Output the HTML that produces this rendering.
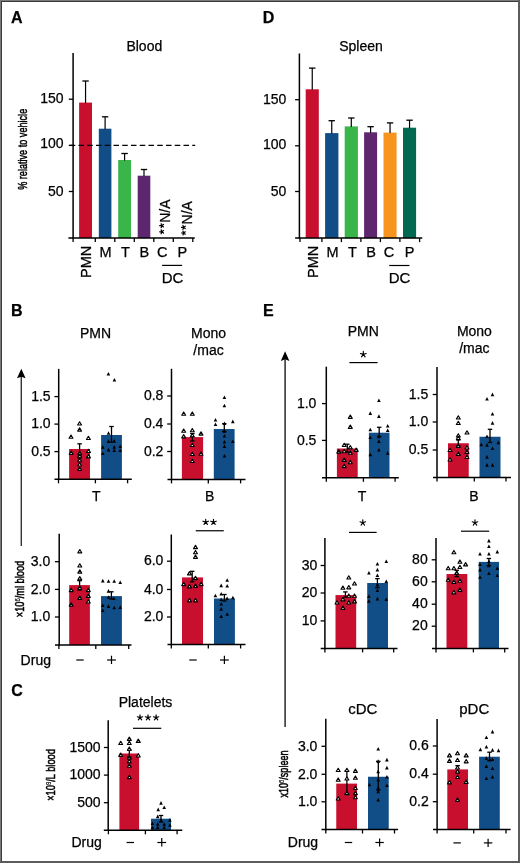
<!DOCTYPE html>
<html><head><meta charset="utf-8"><style>
html,body{margin:0;padding:0;background:#fff;}
#fig{position:relative;width:520px;height:863px;overflow:hidden;background:#fff;}
svg{position:absolute;left:0;top:0;will-change:transform;}
text{font-family:"Liberation Sans", sans-serif;fill:#000;stroke:#000;stroke-width:0.25px;}
</style></head><body><div id="fig">
<svg width="520" height="863" viewBox="0 0 520 863">
<rect x="0" y="0" width="520" height="863" fill="#fff"/>
<text x="11" y="22.8" font-size="16" text-anchor="start" font-weight="bold" >A</text>
<text x="144.3" y="50.9" font-size="14" text-anchor="middle" font-weight="normal" >Blood</text>
<line x1="73.1" y1="53" x2="73.1" y2="238.75" stroke="#000" stroke-width="1.5" />
<line x1="68.8" y1="99.2" x2="73.1" y2="99.2" stroke="#000" stroke-width="1.3" />
<text x="63.5" y="103.1" font-size="14" text-anchor="end" font-weight="normal" >150</text>
<line x1="68.8" y1="145.4" x2="73.1" y2="145.4" stroke="#000" stroke-width="1.3" />
<text x="63.5" y="148.3" font-size="14" text-anchor="end" font-weight="normal" >100</text>
<line x1="68.8" y1="191.5" x2="73.1" y2="191.5" stroke="#000" stroke-width="1.3" />
<text x="63.5" y="195.7" font-size="14" text-anchor="end" font-weight="normal" >50</text>
<text transform="translate(26.6,149.3) rotate(-90)" font-size="12.5" text-anchor="middle" font-weight="normal" style="stroke-width:0.5px" textLength="81" lengthAdjust="spacingAndGlyphs">% relative to vehicle</text>
<rect x="79.1" y="102.6" width="12.9" height="135.4" fill="#c8102e"/>
<line x1="85.55" y1="81" x2="85.55" y2="103.1" stroke="#000" stroke-width="1.2" />
<line x1="82.35" y1="81" x2="88.75" y2="81" stroke="#000" stroke-width="1.3" />
<rect x="98.8" y="128.7" width="12.6" height="109.3" fill="#114e88"/>
<line x1="105.1" y1="116.8" x2="105.1" y2="129.2" stroke="#000" stroke-width="1.2" />
<line x1="101.9" y1="116.8" x2="108.3" y2="116.8" stroke="#000" stroke-width="1.3" />
<rect x="118.2" y="160" width="12.8" height="78" fill="#39b54a"/>
<line x1="124.6" y1="153.5" x2="124.6" y2="160.5" stroke="#000" stroke-width="1.2" />
<line x1="121.4" y1="153.5" x2="127.8" y2="153.5" stroke="#000" stroke-width="1.3" />
<rect x="137.7" y="175.7" width="12.6" height="62.3" fill="#5f2670"/>
<line x1="144.0" y1="169.5" x2="144.0" y2="176.2" stroke="#000" stroke-width="1.2" />
<line x1="140.8" y1="169.5" x2="147.2" y2="169.5" stroke="#000" stroke-width="1.3" />
<line x1="69.75" y1="145.4" x2="195.2" y2="145.4" stroke="#000" stroke-width="1.4" stroke-dasharray="5.5 3.25"/>
<line x1="68.4" y1="238.1" x2="194.8" y2="238.1" stroke="#000" stroke-width="1.5" />
<line x1="73.1" y1="238.1" x2="73.1" y2="242.1" stroke="#000" stroke-width="1.3" />
<line x1="95.3" y1="238.1" x2="95.3" y2="242.1" stroke="#000" stroke-width="1.3" />
<line x1="114.8" y1="238.1" x2="114.8" y2="242.1" stroke="#000" stroke-width="1.3" />
<line x1="134.3" y1="238.1" x2="134.3" y2="242.1" stroke="#000" stroke-width="1.3" />
<line x1="153.8" y1="238.1" x2="153.8" y2="242.1" stroke="#000" stroke-width="1.3" />
<line x1="173.3" y1="238.1" x2="173.3" y2="242.1" stroke="#000" stroke-width="1.3" />
<line x1="192.8" y1="238.1" x2="192.8" y2="242.1" stroke="#000" stroke-width="1.3" />
<text transform="translate(90.8,261.8) rotate(-90)" font-size="14.5" text-anchor="middle" font-weight="normal" >PMN</text>
<text x="105.65" y="256.7" font-size="14.5" text-anchor="middle" font-weight="normal" >M</text>
<text x="125.5" y="256.7" font-size="14.5" text-anchor="middle" font-weight="normal" >T</text>
<text x="144.4" y="256.7" font-size="14.5" text-anchor="middle" font-weight="normal" >B</text>
<text x="162.25" y="256.7" font-size="14.5" text-anchor="middle" font-weight="normal" >C</text>
<text x="182.3" y="256.7" font-size="14.5" text-anchor="middle" font-weight="normal" >P</text>
<line x1="162.1" y1="265.4" x2="182.1" y2="265.4" stroke="#000" stroke-width="1.2" />
<text x="172.5" y="282.5" font-size="15" text-anchor="middle" font-weight="normal" >DC</text>
<text transform="translate(169.6,211.2) rotate(-90)" font-size="14" text-anchor="middle" font-weight="normal" >N/A</text>
<text transform="translate(191.8,212.8) rotate(-90)" font-size="14" text-anchor="middle" font-weight="normal" >N/A</text>
<path d="M161.8,225.7L159.7,225.7M161.8,225.7L161.15,223.7M161.8,225.7L163.5,224.47M161.8,225.7L163.5,226.93M161.8,225.7L161.15,227.7" stroke="#000" stroke-width="1.2" stroke-linecap="round" fill="none"/>
<path d="M161.8,231.8L159.7,231.8M161.8,231.8L161.15,229.8M161.8,231.8L163.5,230.57M161.8,231.8L163.5,233.03M161.8,231.8L161.15,233.8" stroke="#000" stroke-width="1.2" stroke-linecap="round" fill="none"/>
<path d="M183.6,227.4L181.5,227.4M183.6,227.4L182.95,225.4M183.6,227.4L185.3,226.17M183.6,227.4L185.3,228.63M183.6,227.4L182.95,229.4" stroke="#000" stroke-width="1.2" stroke-linecap="round" fill="none"/>
<path d="M183.6,233L181.5,233.0M183.6,233L182.95,231.0M183.6,233L185.3,231.77M183.6,233L185.3,234.23M183.6,233L182.95,235.0" stroke="#000" stroke-width="1.2" stroke-linecap="round" fill="none"/>
<text x="262.7" y="22.8" font-size="16" text-anchor="start" font-weight="bold" >D</text>
<text x="361" y="51.2" font-size="14" text-anchor="middle" font-weight="normal" >Spleen</text>
<line x1="299.4" y1="53.5" x2="299.4" y2="238.85" stroke="#000" stroke-width="1.5" />
<line x1="295.1" y1="99.7" x2="299.4" y2="99.7" stroke="#000" stroke-width="1.3" />
<text x="286.3" y="103.6" font-size="14" text-anchor="end" font-weight="normal" >150</text>
<line x1="295.1" y1="145.8" x2="299.4" y2="145.8" stroke="#000" stroke-width="1.3" />
<text x="286.3" y="148.7" font-size="14" text-anchor="end" font-weight="normal" >100</text>
<line x1="295.1" y1="191.5" x2="299.4" y2="191.5" stroke="#000" stroke-width="1.3" />
<text x="286.3" y="195.7" font-size="14" text-anchor="end" font-weight="normal" >50</text>
<rect x="305.7" y="89.3" width="13.1" height="148.8" fill="#c8102e"/>
<line x1="312.25" y1="68.1" x2="312.25" y2="89.8" stroke="#000" stroke-width="1.2" />
<line x1="309.05" y1="68.1" x2="315.45" y2="68.1" stroke="#000" stroke-width="1.3" />
<rect x="325.1" y="133.1" width="13.3" height="105.0" fill="#114e88"/>
<line x1="331.75" y1="120.7" x2="331.75" y2="133.6" stroke="#000" stroke-width="1.2" />
<line x1="328.55" y1="120.7" x2="334.95" y2="120.7" stroke="#000" stroke-width="1.3" />
<rect x="344.7" y="126.4" width="13.2" height="111.7" fill="#39b54a"/>
<line x1="351.3" y1="118" x2="351.3" y2="126.9" stroke="#000" stroke-width="1.2" />
<line x1="348.1" y1="118" x2="354.5" y2="118" stroke="#000" stroke-width="1.3" />
<rect x="364.1" y="132.3" width="13.0" height="105.8" fill="#5f2670"/>
<line x1="370.6" y1="126.7" x2="370.6" y2="132.8" stroke="#000" stroke-width="1.2" />
<line x1="367.4" y1="126.7" x2="373.8" y2="126.7" stroke="#000" stroke-width="1.3" />
<rect x="383.5" y="132.6" width="13.1" height="105.5" fill="#f7941d"/>
<line x1="390.05" y1="122.9" x2="390.05" y2="133.1" stroke="#000" stroke-width="1.2" />
<line x1="386.85" y1="122.9" x2="393.25" y2="122.9" stroke="#000" stroke-width="1.3" />
<rect x="403" y="127.7" width="13.1" height="110.4" fill="#00694f"/>
<line x1="409.55" y1="120.2" x2="409.55" y2="128.2" stroke="#000" stroke-width="1.2" />
<line x1="406.35" y1="120.2" x2="412.75" y2="120.2" stroke="#000" stroke-width="1.3" />
<line x1="295.1" y1="238.1" x2="422.3" y2="238.1" stroke="#000" stroke-width="1.5" />
<line x1="300" y1="238.1" x2="300" y2="242.1" stroke="#000" stroke-width="1.3" />
<line x1="321.9" y1="238.1" x2="321.9" y2="242.1" stroke="#000" stroke-width="1.3" />
<line x1="341.4" y1="238.1" x2="341.4" y2="242.1" stroke="#000" stroke-width="1.3" />
<line x1="360.9" y1="238.1" x2="360.9" y2="242.1" stroke="#000" stroke-width="1.3" />
<line x1="380.4" y1="238.1" x2="380.4" y2="242.1" stroke="#000" stroke-width="1.3" />
<line x1="399.9" y1="238.1" x2="399.9" y2="242.1" stroke="#000" stroke-width="1.3" />
<line x1="419.6" y1="238.1" x2="419.6" y2="242.1" stroke="#000" stroke-width="1.3" />
<text transform="translate(318,261.9) rotate(-90)" font-size="14.5" text-anchor="middle" font-weight="normal" >PMN</text>
<text x="332.6" y="257.1" font-size="14.5" text-anchor="middle" font-weight="normal" >M</text>
<text x="352.5" y="257.1" font-size="14.5" text-anchor="middle" font-weight="normal" >T</text>
<text x="371.1" y="257.1" font-size="14.5" text-anchor="middle" font-weight="normal" >B</text>
<text x="389" y="257.1" font-size="14.5" text-anchor="middle" font-weight="normal" >C</text>
<text x="409.5" y="257.1" font-size="14.5" text-anchor="middle" font-weight="normal" >P</text>
<line x1="389.2" y1="265.5" x2="409.5" y2="265.5" stroke="#000" stroke-width="1.2" />
<text x="399.6" y="282.5" font-size="15" text-anchor="middle" font-weight="normal" >DC</text>
<text x="10.9" y="315.8" font-size="16" text-anchor="start" font-weight="bold" >B</text>
<text x="95.6" y="338" font-size="14" text-anchor="middle" font-weight="normal" >PMN</text>
<text x="208.5" y="338" font-size="14" text-anchor="middle" font-weight="normal" >Mono</text>
<text x="208.5" y="355" font-size="14" text-anchor="middle" font-weight="normal" >/mac</text>
<line x1="21.3" y1="373.7" x2="21.3" y2="546" stroke="#363636" stroke-width="1.45" />
<path d="M21.3,368.7L25.6,378.3L21.3,376.7L17.0,378.3Z" fill="#000"/>
<line x1="58.7" y1="368.9" x2="58.7" y2="480.05" stroke="#000" stroke-width="1.5" />
<line x1="54.4" y1="396.6" x2="58.7" y2="396.6" stroke="#000" stroke-width="1.3" />
<text x="50.6" y="400.8" font-size="14" text-anchor="end" font-weight="normal" >1.5</text>
<line x1="54.4" y1="424.1" x2="58.7" y2="424.1" stroke="#000" stroke-width="1.3" />
<text x="50.6" y="428.3" font-size="14" text-anchor="end" font-weight="normal" >1.0</text>
<line x1="54.4" y1="451.6" x2="58.7" y2="451.6" stroke="#000" stroke-width="1.3" />
<text x="50.6" y="455.8" font-size="14" text-anchor="end" font-weight="normal" >0.5</text>
<rect x="69.1" y="449" width="20.9" height="30.3" fill="#c8102e"/>
<rect x="101.1" y="435" width="20.8" height="44.3" fill="#114e88"/>
<line x1="79.6" y1="443.8" x2="79.6" y2="458" stroke="#000" stroke-width="1.3" />
<line x1="77.35" y1="443.8" x2="81.85" y2="443.8" stroke="#000" stroke-width="1.3" />
<line x1="77.35" y1="458" x2="81.85" y2="458" stroke="#000" stroke-width="1.3" />
<line x1="111.5" y1="426.5" x2="111.5" y2="442.3" stroke="#000" stroke-width="1.3" />
<line x1="109.25" y1="426.5" x2="113.75" y2="426.5" stroke="#000" stroke-width="1.3" />
<line x1="109.25" y1="442.3" x2="113.75" y2="442.3" stroke="#000" stroke-width="1.3" />
<path d="M79.6,421.75L81.55,425.0L77.65,425.0Z" fill="#fff" stroke="#000" stroke-width="1.15" stroke-linejoin="round"/>
<path d="M79.6,427.85L81.55,431.1L77.65,431.1Z" fill="#fff" stroke="#000" stroke-width="1.15" stroke-linejoin="round"/>
<path d="M71,435.0L72.95,438.25L69.05,438.25Z" fill="#fff" stroke="#000" stroke-width="1.15" stroke-linejoin="round"/>
<path d="M88.4,436.25L90.35,439.5L86.45,439.5Z" fill="#fff" stroke="#000" stroke-width="1.15" stroke-linejoin="round"/>
<path d="M71.2,451.05L73.15,454.3L69.25,454.3Z" fill="#fff" stroke="#000" stroke-width="1.15" stroke-linejoin="round"/>
<path d="M88.5,449.25L90.45,452.5L86.55,452.5Z" fill="#fff" stroke="#000" stroke-width="1.15" stroke-linejoin="round"/>
<path d="M88.5,454.65L90.45,457.9L86.55,457.9Z" fill="#fff" stroke="#000" stroke-width="1.15" stroke-linejoin="round"/>
<path d="M79.7,451.45L81.65,454.7L77.75,454.7Z" fill="#fff" stroke="#000" stroke-width="1.15" stroke-linejoin="round"/>
<path d="M79.7,453.95L81.65,457.2L77.75,457.2Z" fill="#fff" stroke="#000" stroke-width="1.15" stroke-linejoin="round"/>
<path d="M79.7,458.45L81.65,461.7L77.75,461.7Z" fill="#fff" stroke="#000" stroke-width="1.15" stroke-linejoin="round"/>
<path d="M79.7,462.75L81.65,466.0L77.75,466.0Z" fill="#fff" stroke="#000" stroke-width="1.15" stroke-linejoin="round"/>
<path d="M79.7,467.05L81.65,470.3L77.75,470.3Z" fill="#fff" stroke="#000" stroke-width="1.15" stroke-linejoin="round"/>
<path d="M108.4,371.90000000000003L110.2,375.5L106.60000000000001,375.5Z" fill="#000"/>
<path d="M114.4,377.90000000000003L116.2,381.5L112.60000000000001,381.5Z" fill="#000"/>
<path d="M108.5,431.20000000000005L110.3,434.8L106.7,434.8Z" fill="#000"/>
<path d="M108.5,439.3L110.3,442.9L106.7,442.9Z" fill="#000"/>
<path d="M114.2,439.1L116.0,442.7L112.4,442.7Z" fill="#000"/>
<path d="M102.8,445.1L104.6,448.7L101.0,448.7Z" fill="#000"/>
<path d="M108.5,447.8L110.3,451.4L106.7,451.4Z" fill="#000"/>
<path d="M114.2,445.1L116.0,448.7L112.4,448.7Z" fill="#000"/>
<path d="M120.2,444.40000000000003L122.0,448.0L118.4,448.0Z" fill="#000"/>
<path d="M114.2,448.5L116.0,452.09999999999997L112.4,452.09999999999997Z" fill="#000"/>
<path d="M120.2,448.5L122.0,452.09999999999997L118.4,452.09999999999997Z" fill="#000"/>
<path d="M102.8,451.40000000000003L104.6,455.0L101.0,455.0Z" fill="#000"/>
<line x1="54.5" y1="479.3" x2="131.8" y2="479.3" stroke="#000" stroke-width="1.5" />
<line x1="58.5" y1="479.3" x2="58.5" y2="483.3" stroke="#000" stroke-width="1.3" />
<line x1="95.4" y1="479.3" x2="95.4" y2="483.3" stroke="#000" stroke-width="1.3" />
<line x1="127.6" y1="479.3" x2="127.6" y2="483.3" stroke="#000" stroke-width="1.3" />
<text x="96.2" y="500.5" font-size="14" text-anchor="middle" font-weight="normal" >T</text>
<line x1="171.5" y1="368.8" x2="171.5" y2="480.15" stroke="#000" stroke-width="1.5" />
<line x1="167.2" y1="396" x2="171.5" y2="396" stroke="#000" stroke-width="1.3" />
<text x="163.4" y="400.2" font-size="14" text-anchor="end" font-weight="normal" >0.8</text>
<line x1="167.2" y1="424" x2="171.5" y2="424" stroke="#000" stroke-width="1.3" />
<text x="163.4" y="428.2" font-size="14" text-anchor="end" font-weight="normal" >0.4</text>
<line x1="167.2" y1="451.5" x2="171.5" y2="451.5" stroke="#000" stroke-width="1.3" />
<text x="163.4" y="455.7" font-size="14" text-anchor="end" font-weight="normal" >0.2</text>
<rect x="181.9" y="437.1" width="21.2" height="42.3" fill="#c8102e"/>
<rect x="213.8" y="429" width="20.8" height="50.4" fill="#114e88"/>
<line x1="192.4" y1="433.5" x2="192.4" y2="441" stroke="#000" stroke-width="1.3" />
<line x1="190.15" y1="433.5" x2="194.65" y2="433.5" stroke="#000" stroke-width="1.3" />
<line x1="190.15" y1="441" x2="194.65" y2="441" stroke="#000" stroke-width="1.3" />
<line x1="224.3" y1="423.7" x2="224.3" y2="431.5" stroke="#000" stroke-width="1.3" />
<line x1="222.05" y1="423.7" x2="226.55" y2="423.7" stroke="#000" stroke-width="1.3" />
<line x1="222.05" y1="431.5" x2="226.55" y2="431.5" stroke="#000" stroke-width="1.3" />
<path d="M183.7,411.95L185.65,415.2L181.75,415.2Z" fill="#fff" stroke="#000" stroke-width="1.15" stroke-linejoin="round"/>
<path d="M192.3,411.95L194.25,415.2L190.35,415.2Z" fill="#fff" stroke="#000" stroke-width="1.15" stroke-linejoin="round"/>
<path d="M183.7,428.95L185.65,432.2L181.75,432.2Z" fill="#fff" stroke="#000" stroke-width="1.15" stroke-linejoin="round"/>
<path d="M192.3,428.45L194.25,431.7L190.35,431.7Z" fill="#fff" stroke="#000" stroke-width="1.15" stroke-linejoin="round"/>
<path d="M201,431.85L202.95,435.1L199.05,435.1Z" fill="#fff" stroke="#000" stroke-width="1.15" stroke-linejoin="round"/>
<path d="M183.7,434.65L185.65,437.9L181.75,437.9Z" fill="#fff" stroke="#000" stroke-width="1.15" stroke-linejoin="round"/>
<path d="M192.3,433.55L194.25,436.8L190.35,436.8Z" fill="#fff" stroke="#000" stroke-width="1.15" stroke-linejoin="round"/>
<path d="M192.3,443.25L194.25,446.5L190.35,446.5Z" fill="#fff" stroke="#000" stroke-width="1.15" stroke-linejoin="round"/>
<path d="M192.3,452.25L194.25,455.5L190.35,455.5Z" fill="#fff" stroke="#000" stroke-width="1.15" stroke-linejoin="round"/>
<path d="M201,451.95L202.95,455.2L199.05,455.2Z" fill="#fff" stroke="#000" stroke-width="1.15" stroke-linejoin="round"/>
<path d="M192.3,459.25L194.25,462.5L190.35,462.5Z" fill="#fff" stroke="#000" stroke-width="1.15" stroke-linejoin="round"/>
<path d="M224.4,395.40000000000003L226.20000000000002,399.0L222.6,399.0Z" fill="#000"/>
<path d="M224.4,403.70000000000005L226.20000000000002,407.3L222.6,407.3Z" fill="#000"/>
<path d="M215.5,417.90000000000003L217.3,421.5L213.7,421.5Z" fill="#000"/>
<path d="M215.5,422.40000000000003L217.3,426.0L213.7,426.0Z" fill="#000"/>
<path d="M224.4,421.5L226.20000000000002,425.09999999999997L222.6,425.09999999999997Z" fill="#000"/>
<path d="M232.8,419.6L234.60000000000002,423.2L231.0,423.2Z" fill="#000"/>
<path d="M224.4,429.3L226.20000000000002,432.9L222.6,432.9Z" fill="#000"/>
<path d="M224.4,434.0L226.20000000000002,437.59999999999997L222.6,437.59999999999997Z" fill="#000"/>
<path d="M232.8,439.5L234.60000000000002,443.09999999999997L231.0,443.09999999999997Z" fill="#000"/>
<path d="M224.4,440.0L226.20000000000002,443.59999999999997L222.6,443.59999999999997Z" fill="#000"/>
<path d="M224.4,444.3L226.20000000000002,447.9L222.6,447.9Z" fill="#000"/>
<path d="M224.4,453.90000000000003L226.20000000000002,457.5L222.6,457.5Z" fill="#000"/>
<line x1="167.5" y1="479.4" x2="245.5" y2="479.4" stroke="#000" stroke-width="1.5" />
<line x1="171.5" y1="479.4" x2="171.5" y2="483.4" stroke="#000" stroke-width="1.3" />
<line x1="208.3" y1="479.4" x2="208.3" y2="483.4" stroke="#000" stroke-width="1.3" />
<line x1="240.6" y1="479.4" x2="240.6" y2="483.4" stroke="#000" stroke-width="1.3" />
<text x="209.7" y="500.5" font-size="14" text-anchor="middle" font-weight="normal" >B</text>
<line x1="59.2" y1="533.7" x2="59.2" y2="645.75" stroke="#000" stroke-width="1.5" />
<line x1="54.9" y1="561.7" x2="59.2" y2="561.7" stroke="#000" stroke-width="1.3" />
<text x="50.3" y="565.9" font-size="14" text-anchor="end" font-weight="normal" >3.0</text>
<line x1="54.9" y1="589.4" x2="59.2" y2="589.4" stroke="#000" stroke-width="1.3" />
<text x="50.3" y="593.6" font-size="14" text-anchor="end" font-weight="normal" >2.0</text>
<line x1="54.9" y1="617" x2="59.2" y2="617" stroke="#000" stroke-width="1.3" />
<text x="50.3" y="621.2" font-size="14" text-anchor="end" font-weight="normal" >1.0</text>
<rect x="69.2" y="585.1" width="20.7" height="59.9" fill="#c8102e"/>
<rect x="101" y="596.1" width="20.9" height="48.9" fill="#114e88"/>
<line x1="79.6" y1="580.7" x2="79.6" y2="590" stroke="#000" stroke-width="1.3" />
<line x1="77.35" y1="580.7" x2="81.85" y2="580.7" stroke="#000" stroke-width="1.3" />
<line x1="77.35" y1="590" x2="81.85" y2="590" stroke="#000" stroke-width="1.3" />
<line x1="111.4" y1="591.8" x2="111.4" y2="599" stroke="#000" stroke-width="1.3" />
<line x1="109.15" y1="591.8" x2="113.65" y2="591.8" stroke="#000" stroke-width="1.3" />
<line x1="109.15" y1="599" x2="113.65" y2="599" stroke="#000" stroke-width="1.3" />
<path d="M79.8,549.55L81.75,552.8L77.85,552.8Z" fill="#fff" stroke="#000" stroke-width="1.15" stroke-linejoin="round"/>
<path d="M79.8,563.75L81.75,567.0L77.85,567.0Z" fill="#fff" stroke="#000" stroke-width="1.15" stroke-linejoin="round"/>
<path d="M79.8,569.85L81.75,573.1L77.85,573.1Z" fill="#fff" stroke="#000" stroke-width="1.15" stroke-linejoin="round"/>
<path d="M79.8,576.65L81.75,579.9L77.85,579.9Z" fill="#fff" stroke="#000" stroke-width="1.15" stroke-linejoin="round"/>
<path d="M79.8,586.05L81.75,589.3L77.85,589.3Z" fill="#fff" stroke="#000" stroke-width="1.15" stroke-linejoin="round"/>
<path d="M71.2,588.35L73.15,591.6L69.25,591.6Z" fill="#fff" stroke="#000" stroke-width="1.15" stroke-linejoin="round"/>
<path d="M88.3,588.35L90.25,591.6L86.35,591.6Z" fill="#fff" stroke="#000" stroke-width="1.15" stroke-linejoin="round"/>
<path d="M88.3,594.15L90.25,597.4L86.35,597.4Z" fill="#fff" stroke="#000" stroke-width="1.15" stroke-linejoin="round"/>
<path d="M79.8,596.15L81.75,599.4L77.85,599.4Z" fill="#fff" stroke="#000" stroke-width="1.15" stroke-linejoin="round"/>
<path d="M88.3,599.75L90.25,603.0L86.35,603.0Z" fill="#fff" stroke="#000" stroke-width="1.15" stroke-linejoin="round"/>
<path d="M71.2,602.85L73.15,606.1L69.25,606.1Z" fill="#fff" stroke="#000" stroke-width="1.15" stroke-linejoin="round"/>
<path d="M102.8,578.8000000000001L104.6,582.4000000000001L101.0,582.4000000000001Z" fill="#000"/>
<path d="M108.5,579.2L110.3,582.8000000000001L106.7,582.8000000000001Z" fill="#000"/>
<path d="M114.2,579.2L116.0,582.8000000000001L112.4,582.8000000000001Z" fill="#000"/>
<path d="M120.2,580.5L122.0,584.1L118.4,584.1Z" fill="#000"/>
<path d="M108.5,589.1L110.3,592.7L106.7,592.7Z" fill="#000"/>
<path d="M108.5,595.2L110.3,598.8000000000001L106.7,598.8000000000001Z" fill="#000"/>
<path d="M113.8,596.5L115.6,600.1L112.0,600.1Z" fill="#000"/>
<path d="M102.8,603.3000000000001L104.6,606.9000000000001L101.0,606.9000000000001Z" fill="#000"/>
<path d="M108.5,604.3000000000001L110.3,607.9000000000001L106.7,607.9000000000001Z" fill="#000"/>
<path d="M114.2,605.7L116.0,609.3000000000001L112.4,609.3000000000001Z" fill="#000"/>
<path d="M120.2,605.3000000000001L122.0,608.9000000000001L118.4,608.9000000000001Z" fill="#000"/>
<path d="M102.8,608.4L104.6,612.0L101.0,612.0Z" fill="#000"/>
<line x1="55" y1="645" x2="131.5" y2="645" stroke="#000" stroke-width="1.5" />
<line x1="58.9" y1="645" x2="58.9" y2="649" stroke="#000" stroke-width="1.3" />
<line x1="95.8" y1="645" x2="95.8" y2="649" stroke="#000" stroke-width="1.3" />
<line x1="128.7" y1="645" x2="128.7" y2="649" stroke="#000" stroke-width="1.3" />
<text transform="translate(24.2,589) rotate(-90)" font-size="12.5" text-anchor="middle" font-weight="normal" style="stroke-width:0.55px" textLength="56.5" lengthAdjust="spacingAndGlyphs">×10<tspan font-size="8" dy="-4" style="stroke-width:0.2px">6</tspan><tspan dy="4">/ml blood</tspan></text>
<line x1="171.3" y1="534.5" x2="171.3" y2="645.25" stroke="#000" stroke-width="1.5" />
<line x1="167.0" y1="561.2" x2="171.3" y2="561.2" stroke="#000" stroke-width="1.3" />
<text x="163.4" y="565.4" font-size="14" text-anchor="end" font-weight="normal" >6.0</text>
<line x1="167.0" y1="589.5" x2="171.3" y2="589.5" stroke="#000" stroke-width="1.3" />
<text x="163.4" y="593.7" font-size="14" text-anchor="end" font-weight="normal" >4.0</text>
<line x1="167.0" y1="617" x2="171.3" y2="617" stroke="#000" stroke-width="1.3" />
<text x="163.4" y="621.2" font-size="14" text-anchor="end" font-weight="normal" >2.0</text>
<rect x="182" y="577.4" width="21" height="67.1" fill="#c8102e"/>
<rect x="214" y="598.5" width="20.9" height="46.0" fill="#114e88"/>
<line x1="192.2" y1="571.3" x2="192.2" y2="581.8" stroke="#000" stroke-width="1.3" />
<line x1="189.95" y1="571.3" x2="194.45" y2="571.3" stroke="#000" stroke-width="1.3" />
<line x1="189.95" y1="581.8" x2="194.45" y2="581.8" stroke="#000" stroke-width="1.3" />
<line x1="224.4" y1="594.5" x2="224.4" y2="601" stroke="#000" stroke-width="1.3" />
<line x1="222.15" y1="594.5" x2="226.65" y2="594.5" stroke="#000" stroke-width="1.3" />
<line x1="222.15" y1="601" x2="226.65" y2="601" stroke="#000" stroke-width="1.3" />
<path d="M195.5,545.35L197.45,548.6L193.55,548.6Z" fill="#fff" stroke="#000" stroke-width="1.15" stroke-linejoin="round"/>
<path d="M195.5,550.45L197.45,553.7L193.55,553.7Z" fill="#fff" stroke="#000" stroke-width="1.15" stroke-linejoin="round"/>
<path d="M195.5,555.05L197.45,558.3L193.55,558.3Z" fill="#fff" stroke="#000" stroke-width="1.15" stroke-linejoin="round"/>
<path d="M189.5,571.65L191.45,574.9L187.55,574.9Z" fill="#fff" stroke="#000" stroke-width="1.15" stroke-linejoin="round"/>
<path d="M195.5,576.35L197.45,579.6L193.55,579.6Z" fill="#fff" stroke="#000" stroke-width="1.15" stroke-linejoin="round"/>
<path d="M183.7,582.35L185.65,585.6L181.75,585.6Z" fill="#fff" stroke="#000" stroke-width="1.15" stroke-linejoin="round"/>
<path d="M189.5,584.65L191.45,587.9L187.55,587.9Z" fill="#fff" stroke="#000" stroke-width="1.15" stroke-linejoin="round"/>
<path d="M195.5,584.15L197.45,587.4L193.55,587.4Z" fill="#fff" stroke="#000" stroke-width="1.15" stroke-linejoin="round"/>
<path d="M201.2,582.35L203.15,585.6L199.25,585.6Z" fill="#fff" stroke="#000" stroke-width="1.15" stroke-linejoin="round"/>
<path d="M189.5,598.55L191.45,601.8L187.55,601.8Z" fill="#fff" stroke="#000" stroke-width="1.15" stroke-linejoin="round"/>
<path d="M195.5,598.55L197.45,601.8L193.55,601.8Z" fill="#fff" stroke="#000" stroke-width="1.15" stroke-linejoin="round"/>
<path d="M227.2,578.2L229.0,581.8000000000001L225.39999999999998,581.8000000000001Z" fill="#000"/>
<path d="M221.2,583.6L223.0,587.2L219.39999999999998,587.2Z" fill="#000"/>
<path d="M227.2,584.0L229.0,587.6L225.39999999999998,587.6Z" fill="#000"/>
<path d="M215.4,593.7L217.20000000000002,597.3000000000001L213.6,597.3000000000001Z" fill="#000"/>
<path d="M221.2,591.9L223.0,595.5L219.39999999999998,595.5Z" fill="#000"/>
<path d="M227.1,596.4L228.9,600.0L225.29999999999998,600.0Z" fill="#000"/>
<path d="M232.9,595.7L234.70000000000002,599.3000000000001L231.1,599.3000000000001Z" fill="#000"/>
<path d="M221.2,597.4L223.0,601.0L219.39999999999998,601.0Z" fill="#000"/>
<path d="M221.2,602.0L223.0,605.6L219.39999999999998,605.6Z" fill="#000"/>
<path d="M221.2,607.1L223.0,610.7L219.39999999999998,610.7Z" fill="#000"/>
<path d="M227.2,612.2L229.0,615.8000000000001L225.39999999999998,615.8000000000001Z" fill="#000"/>
<path d="M221.2,614.5L223.0,618.1L219.39999999999998,618.1Z" fill="#000"/>
<line x1="167.5" y1="644.5" x2="245.5" y2="644.5" stroke="#000" stroke-width="1.5" />
<line x1="171.3" y1="644.5" x2="171.3" y2="648.5" stroke="#000" stroke-width="1.3" />
<line x1="208.3" y1="644.5" x2="208.3" y2="648.5" stroke="#000" stroke-width="1.3" />
<line x1="240.6" y1="644.5" x2="240.6" y2="648.5" stroke="#000" stroke-width="1.3" />
<line x1="195.75" y1="530.75" x2="223.75" y2="530.75" stroke="#000" stroke-width="1.2" />
<path d="M205.7,522.1L205.7,519.2M205.7,522.1L208.46,521.2M205.7,522.1L207.4,524.45M205.7,522.1L204.0,524.45M205.7,522.1L202.94,521.2" stroke="#000" stroke-width="1.15" stroke-linecap="round" fill="none"/>
<path d="M213.5,522.1L213.5,519.2M213.5,522.1L216.26,521.2M213.5,522.1L215.2,524.45M213.5,522.1L211.8,524.45M213.5,522.1L210.74,521.2" stroke="#000" stroke-width="1.15" stroke-linecap="round" fill="none"/>
<text x="35.8" y="664.5" font-size="14" text-anchor="middle" font-weight="normal" >Drug</text>
<line x1="76.3" y1="660" x2="83.7" y2="660" stroke="#000" stroke-width="1.2" />
<line x1="189.3" y1="660" x2="196.7" y2="660" stroke="#000" stroke-width="1.2" />
<line x1="107.1" y1="660" x2="115.9" y2="660" stroke="#000" stroke-width="1.2" />
<line x1="111.5" y1="655.7" x2="111.5" y2="664" stroke="#000" stroke-width="1.2" />
<line x1="220.0" y1="660" x2="228.8" y2="660" stroke="#000" stroke-width="1.2" />
<line x1="224.4" y1="655.7" x2="224.4" y2="664" stroke="#000" stroke-width="1.2" />
<text x="11.2" y="695.8" font-size="16" text-anchor="start" font-weight="bold" >C</text>
<text x="145.5" y="706.8" font-size="14" text-anchor="middle" font-weight="normal" >Platelets</text>
<line x1="108.2" y1="720.3" x2="108.2" y2="831.05" stroke="#000" stroke-width="1.5" />
<line x1="103.9" y1="747.5" x2="108.2" y2="747.5" stroke="#000" stroke-width="1.3" />
<text x="100.6" y="751.7" font-size="14" text-anchor="end" font-weight="normal" >1500</text>
<line x1="103.9" y1="775.1" x2="108.2" y2="775.1" stroke="#000" stroke-width="1.3" />
<text x="100.6" y="779.3" font-size="14" text-anchor="end" font-weight="normal" >1000</text>
<line x1="103.9" y1="802.7" x2="108.2" y2="802.7" stroke="#000" stroke-width="1.3" />
<text x="100.6" y="806.9" font-size="14" text-anchor="end" font-weight="normal" >500</text>
<rect x="119.4" y="753.5" width="19.7" height="76.8" fill="#c8102e"/>
<rect x="151" y="818.7" width="20" height="11.6" fill="#114e88"/>
<line x1="129.3" y1="750" x2="129.3" y2="757" stroke="#000" stroke-width="1.3" />
<line x1="127.05" y1="750" x2="131.55" y2="750" stroke="#000" stroke-width="1.3" />
<line x1="127.05" y1="757" x2="131.55" y2="757" stroke="#000" stroke-width="1.3" />
<line x1="161" y1="815.5" x2="161" y2="822" stroke="#000" stroke-width="1.3" />
<line x1="158.75" y1="815.5" x2="163.25" y2="815.5" stroke="#000" stroke-width="1.3" />
<line x1="158.75" y1="822" x2="163.25" y2="822" stroke="#000" stroke-width="1.3" />
<path d="M120.7,741.25L122.65,744.5L118.75,744.5Z" fill="#fff" stroke="#000" stroke-width="1.15" stroke-linejoin="round"/>
<path d="M129.3,737.15L131.25,740.4L127.35,740.4Z" fill="#fff" stroke="#000" stroke-width="1.15" stroke-linejoin="round"/>
<path d="M129.3,741.25L131.25,744.5L127.35,744.5Z" fill="#fff" stroke="#000" stroke-width="1.15" stroke-linejoin="round"/>
<path d="M138.3,739.15L140.25,742.4L136.35,742.4Z" fill="#fff" stroke="#000" stroke-width="1.15" stroke-linejoin="round"/>
<path d="M129.3,746.95L131.25,750.2L127.35,750.2Z" fill="#fff" stroke="#000" stroke-width="1.15" stroke-linejoin="round"/>
<path d="M120.7,753.05L122.65,756.3L118.75,756.3Z" fill="#fff" stroke="#000" stroke-width="1.15" stroke-linejoin="round"/>
<path d="M138.3,753.75L140.25,757.0L136.35,757.0Z" fill="#fff" stroke="#000" stroke-width="1.15" stroke-linejoin="round"/>
<path d="M129.3,755.85L131.25,759.1L127.35,759.1Z" fill="#fff" stroke="#000" stroke-width="1.15" stroke-linejoin="round"/>
<path d="M129.3,759.55L131.25,762.8L127.35,762.8Z" fill="#fff" stroke="#000" stroke-width="1.15" stroke-linejoin="round"/>
<path d="M129.3,763.95L131.25,767.2L127.35,767.2Z" fill="#fff" stroke="#000" stroke-width="1.15" stroke-linejoin="round"/>
<path d="M129.3,775.35L131.25,778.6L127.35,778.6Z" fill="#fff" stroke="#000" stroke-width="1.15" stroke-linejoin="round"/>
<path d="M161,801.1L162.8,804.7L159.2,804.7Z" fill="#000"/>
<path d="M158.2,807.6L160.0,811.2L156.39999999999998,811.2Z" fill="#000"/>
<path d="M164.2,805.5L166.0,809.1L162.39999999999998,809.1Z" fill="#000"/>
<path d="M157.7,814.6L159.5,818.2L155.89999999999998,818.2Z" fill="#000"/>
<path d="M161,818.1L162.8,821.7L159.2,821.7Z" fill="#000"/>
<path d="M169.9,818.1L171.70000000000002,821.7L168.1,821.7Z" fill="#000"/>
<path d="M152.5,821.4L154.3,825.0L150.7,825.0Z" fill="#000"/>
<path d="M157.7,822.2L159.5,825.8000000000001L155.89999999999998,825.8000000000001Z" fill="#000"/>
<path d="M164.2,822.2L166.0,825.8000000000001L162.39999999999998,825.8000000000001Z" fill="#000"/>
<path d="M169.9,823.1L171.70000000000002,826.7L168.1,826.7Z" fill="#000"/>
<path d="M152.5,825.5L154.3,829.1L150.7,829.1Z" fill="#000"/>
<path d="M157.7,825.5L159.5,829.1L155.89999999999998,829.1Z" fill="#000"/>
<path d="M164.2,825.5L166.0,829.1L162.39999999999998,829.1Z" fill="#000"/>
<line x1="103.8" y1="830.3" x2="182.3" y2="830.3" stroke="#000" stroke-width="1.5" />
<line x1="108.4" y1="830.3" x2="108.4" y2="834.3" stroke="#000" stroke-width="1.3" />
<line x1="145.4" y1="830.3" x2="145.4" y2="834.3" stroke="#000" stroke-width="1.3" />
<line x1="177.1" y1="830.3" x2="177.1" y2="834.3" stroke="#000" stroke-width="1.3" />
<line x1="133" y1="728.3" x2="161.3" y2="728.3" stroke="#000" stroke-width="1.2" />
<path d="M140,717.6L140.0,714.8M140,717.6L142.66,716.73M140,717.6L141.65,719.87M140,717.6L138.35,719.87M140,717.6L137.34,716.73" stroke="#000" stroke-width="1.15" stroke-linecap="round" fill="none"/>
<path d="M148,717.6L148.0,714.8M148,717.6L150.66,716.73M148,717.6L149.65,719.87M148,717.6L146.35,719.87M148,717.6L145.34,716.73" stroke="#000" stroke-width="1.15" stroke-linecap="round" fill="none"/>
<path d="M156.1,717.6L156.1,714.8M156.1,717.6L158.76,716.73M156.1,717.6L157.75,719.87M156.1,717.6L154.45,719.87M156.1,717.6L153.44,716.73" stroke="#000" stroke-width="1.15" stroke-linecap="round" fill="none"/>
<text transform="translate(54.8,775) rotate(-90)" font-size="12.5" text-anchor="middle" font-weight="normal" style="stroke-width:0.55px" textLength="51.7" lengthAdjust="spacingAndGlyphs">×10<tspan font-size="8" dy="-4" style="stroke-width:0.2px">9</tspan><tspan dy="4">/L blood</tspan></text>
<text x="86.6" y="846.8" font-size="14" text-anchor="middle" font-weight="normal" >Drug</text>
<line x1="126.6" y1="842.5" x2="134.0" y2="842.5" stroke="#000" stroke-width="1.2" />
<line x1="157.35" y1="842.5" x2="166.15" y2="842.5" stroke="#000" stroke-width="1.2" />
<line x1="161.75" y1="838.1" x2="161.75" y2="846.5" stroke="#000" stroke-width="1.2" />
<text x="262.9" y="315.8" font-size="16" text-anchor="start" font-weight="bold" >E</text>
<text x="363.25" y="336.25" font-size="14" text-anchor="middle" font-weight="normal" >PMN</text>
<text x="474.4" y="336.25" font-size="14" text-anchor="middle" font-weight="normal" >Mono</text>
<text x="474.4" y="353.2" font-size="14" text-anchor="middle" font-weight="normal" >/mac</text>
<line x1="285.1" y1="356.3" x2="285.1" y2="726.9" stroke="#222" stroke-width="1.45" />
<path d="M285.1,351.3L289.40000000000003,360.90000000000003L285.1,359.3L280.8,360.90000000000003Z" fill="#000"/>
<line x1="349.4" y1="362.6" x2="377.6" y2="362.6" stroke="#000" stroke-width="1.2" />
<path d="M363.3,354.4L363.3,351.4M363.3,354.4L366.15,353.47M363.3,354.4L365.06,356.83M363.3,354.4L361.54,356.83M363.3,354.4L360.45,353.47" stroke="#000" stroke-width="1.15" stroke-linecap="round" fill="none"/>
<line x1="326.3" y1="366.7" x2="326.3" y2="478.55" stroke="#000" stroke-width="1.5" />
<line x1="322.0" y1="403.6" x2="326.3" y2="403.6" stroke="#000" stroke-width="1.3" />
<text x="316.4" y="407.8" font-size="14" text-anchor="end" font-weight="normal" >1.0</text>
<line x1="322.0" y1="440.4" x2="326.3" y2="440.4" stroke="#000" stroke-width="1.3" />
<text x="316.4" y="444.6" font-size="14" text-anchor="end" font-weight="normal" >0.5</text>
<rect x="336.9" y="448.5" width="20.8" height="29.3" fill="#c8102e"/>
<rect x="368.9" y="432.7" width="20.6" height="45.1" fill="#114e88"/>
<line x1="347.3" y1="444.2" x2="347.3" y2="452" stroke="#000" stroke-width="1.3" />
<line x1="345.05" y1="444.2" x2="349.55" y2="444.2" stroke="#000" stroke-width="1.3" />
<line x1="345.05" y1="452" x2="349.55" y2="452" stroke="#000" stroke-width="1.3" />
<line x1="379.2" y1="427.3" x2="379.2" y2="436.5" stroke="#000" stroke-width="1.3" />
<line x1="376.95" y1="427.3" x2="381.45" y2="427.3" stroke="#000" stroke-width="1.3" />
<line x1="376.95" y1="436.5" x2="381.45" y2="436.5" stroke="#000" stroke-width="1.3" />
<path d="M350.3,415.05L352.25,418.3L348.35,418.3Z" fill="#fff" stroke="#000" stroke-width="1.15" stroke-linejoin="round"/>
<path d="M350.3,425.05L352.25,428.3L348.35,428.3Z" fill="#fff" stroke="#000" stroke-width="1.15" stroke-linejoin="round"/>
<path d="M344.2,443.25L346.15,446.5L342.25,446.5Z" fill="#fff" stroke="#000" stroke-width="1.15" stroke-linejoin="round"/>
<path d="M350.3,445.55L352.25,448.8L348.35,448.8Z" fill="#fff" stroke="#000" stroke-width="1.15" stroke-linejoin="round"/>
<path d="M338.8,449.85L340.75,453.1L336.85,453.1Z" fill="#fff" stroke="#000" stroke-width="1.15" stroke-linejoin="round"/>
<path d="M344.2,449.45L346.15,452.7L342.25,452.7Z" fill="#fff" stroke="#000" stroke-width="1.15" stroke-linejoin="round"/>
<path d="M350.3,450.95L352.25,454.2L348.35,454.2Z" fill="#fff" stroke="#000" stroke-width="1.15" stroke-linejoin="round"/>
<path d="M356.2,448.15L358.15,451.4L354.25,451.4Z" fill="#fff" stroke="#000" stroke-width="1.15" stroke-linejoin="round"/>
<path d="M344.2,458.15L346.15,461.4L342.25,461.4Z" fill="#fff" stroke="#000" stroke-width="1.15" stroke-linejoin="round"/>
<path d="M350.3,460.45L352.25,463.7L348.35,463.7Z" fill="#fff" stroke="#000" stroke-width="1.15" stroke-linejoin="round"/>
<path d="M344.2,464.35L346.15,467.6L342.25,467.6Z" fill="#fff" stroke="#000" stroke-width="1.15" stroke-linejoin="round"/>
<path d="M378.9,398.5L380.7,402.09999999999997L377.09999999999997,402.09999999999997Z" fill="#000"/>
<path d="M370.3,411.3L372.1,414.9L368.5,414.9Z" fill="#000"/>
<path d="M378.9,414.3L380.7,417.9L377.09999999999997,417.9Z" fill="#000"/>
<path d="M387.7,423.90000000000003L389.5,427.5L385.9,427.5Z" fill="#000"/>
<path d="M370.3,427.70000000000005L372.1,431.3L368.5,431.3Z" fill="#000"/>
<path d="M387.7,428.5L389.5,432.09999999999997L385.9,432.09999999999997Z" fill="#000"/>
<path d="M370.3,435.40000000000003L372.1,439.0L368.5,439.0Z" fill="#000"/>
<path d="M378.9,434.6L380.7,438.2L377.09999999999997,438.2Z" fill="#000"/>
<path d="M378.9,439.3L380.7,442.9L377.09999999999997,442.9Z" fill="#000"/>
<path d="M378.9,448.0L380.7,451.59999999999997L377.09999999999997,451.59999999999997Z" fill="#000"/>
<path d="M370.3,452.6L372.1,456.2L368.5,456.2Z" fill="#000"/>
<path d="M387.7,451.1L389.5,454.7L385.9,454.7Z" fill="#000"/>
<line x1="322" y1="477.8" x2="398.8" y2="477.8" stroke="#000" stroke-width="1.5" />
<line x1="326.3" y1="477.8" x2="326.3" y2="481.8" stroke="#000" stroke-width="1.3" />
<line x1="363.4" y1="477.8" x2="363.4" y2="481.8" stroke="#000" stroke-width="1.3" />
<line x1="395.1" y1="477.8" x2="395.1" y2="481.8" stroke="#000" stroke-width="1.3" />
<text x="362" y="500.5" font-size="14" text-anchor="middle" font-weight="normal" >T</text>
<line x1="437" y1="367" x2="437" y2="478.25" stroke="#000" stroke-width="1.5" />
<line x1="432.7" y1="394.5" x2="437" y2="394.5" stroke="#000" stroke-width="1.3" />
<text x="428.3" y="398.7" font-size="14" text-anchor="end" font-weight="normal" >1.5</text>
<line x1="432.7" y1="422" x2="437" y2="422" stroke="#000" stroke-width="1.3" />
<text x="428.3" y="426.2" font-size="14" text-anchor="end" font-weight="normal" >1.0</text>
<line x1="432.7" y1="450" x2="437" y2="450" stroke="#000" stroke-width="1.3" />
<text x="428.3" y="454.2" font-size="14" text-anchor="end" font-weight="normal" >0.5</text>
<rect x="448" y="443.25" width="20.75" height="34.25" fill="#c8102e"/>
<rect x="479.5" y="436.75" width="21.0" height="40.75" fill="#114e88"/>
<line x1="458.3" y1="440" x2="458.3" y2="446" stroke="#000" stroke-width="1.3" />
<line x1="456.05" y1="440" x2="460.55" y2="440" stroke="#000" stroke-width="1.3" />
<line x1="456.05" y1="446" x2="460.55" y2="446" stroke="#000" stroke-width="1.3" />
<line x1="490" y1="429.3" x2="490" y2="442.5" stroke="#000" stroke-width="1.3" />
<line x1="487.75" y1="429.3" x2="492.25" y2="429.3" stroke="#000" stroke-width="1.3" />
<line x1="487.75" y1="442.5" x2="492.25" y2="442.5" stroke="#000" stroke-width="1.3" />
<path d="M458.3,415.75L460.25,419.0L456.35,419.0Z" fill="#fff" stroke="#000" stroke-width="1.15" stroke-linejoin="round"/>
<path d="M458.3,421.25L460.25,424.5L456.35,424.5Z" fill="#fff" stroke="#000" stroke-width="1.15" stroke-linejoin="round"/>
<path d="M467,430.75L468.95,434.0L465.05,434.0Z" fill="#fff" stroke="#000" stroke-width="1.15" stroke-linejoin="round"/>
<path d="M458.3,433.75L460.25,437.0L456.35,437.0Z" fill="#fff" stroke="#000" stroke-width="1.15" stroke-linejoin="round"/>
<path d="M458.3,436.25L460.25,439.5L456.35,439.5Z" fill="#fff" stroke="#000" stroke-width="1.15" stroke-linejoin="round"/>
<path d="M450,448.25L451.95,451.5L448.05,451.5Z" fill="#fff" stroke="#000" stroke-width="1.15" stroke-linejoin="round"/>
<path d="M458.3,444.05L460.25,447.3L456.35,447.3Z" fill="#fff" stroke="#000" stroke-width="1.15" stroke-linejoin="round"/>
<path d="M467,445.75L468.95,449.0L465.05,449.0Z" fill="#fff" stroke="#000" stroke-width="1.15" stroke-linejoin="round"/>
<path d="M467,450.05L468.95,453.3L465.05,453.3Z" fill="#fff" stroke="#000" stroke-width="1.15" stroke-linejoin="round"/>
<path d="M458.3,452.05L460.25,455.3L456.35,455.3Z" fill="#fff" stroke="#000" stroke-width="1.15" stroke-linejoin="round"/>
<path d="M467,455.25L468.95,458.5L465.05,458.5Z" fill="#fff" stroke="#000" stroke-width="1.15" stroke-linejoin="round"/>
<path d="M450,457.75L451.95,461.0L448.05,461.0Z" fill="#fff" stroke="#000" stroke-width="1.15" stroke-linejoin="round"/>
<path d="M492.5,392.6L494.3,396.2L490.7,396.2Z" fill="#000"/>
<path d="M487,396.90000000000003L488.8,400.5L485.2,400.5Z" fill="#000"/>
<path d="M492.5,411.90000000000003L494.3,415.5L490.7,415.5Z" fill="#000"/>
<path d="M492.5,421.1L494.3,424.7L490.7,424.7Z" fill="#000"/>
<path d="M487,434.40000000000003L488.8,438.0L485.2,438.0Z" fill="#000"/>
<path d="M481.3,442.6L483.1,446.2L479.5,446.2Z" fill="#000"/>
<path d="M498.3,440.6L500.1,444.2L496.5,444.2Z" fill="#000"/>
<path d="M487,443.1L488.8,446.7L485.2,446.7Z" fill="#000"/>
<path d="M492.5,446.40000000000003L494.3,450.0L490.7,450.0Z" fill="#000"/>
<path d="M487,455.1L488.8,458.7L485.2,458.7Z" fill="#000"/>
<path d="M487,463.1L488.8,466.7L485.2,466.7Z" fill="#000"/>
<path d="M492.5,463.1L494.3,466.7L490.7,466.7Z" fill="#000"/>
<line x1="433" y1="477.5" x2="511" y2="477.5" stroke="#000" stroke-width="1.5" />
<line x1="437" y1="477.5" x2="437" y2="481.5" stroke="#000" stroke-width="1.3" />
<line x1="474.3" y1="477.5" x2="474.3" y2="481.5" stroke="#000" stroke-width="1.3" />
<line x1="506" y1="477.5" x2="506" y2="481.5" stroke="#000" stroke-width="1.3" />
<text x="473.8" y="500.5" font-size="14" text-anchor="middle" font-weight="normal" >B</text>
<line x1="324.9" y1="538" x2="324.9" y2="649.15" stroke="#000" stroke-width="1.5" />
<line x1="320.6" y1="565.5" x2="324.9" y2="565.5" stroke="#000" stroke-width="1.3" />
<text x="317.3" y="569.7" font-size="14" text-anchor="end" font-weight="normal" >30</text>
<line x1="320.6" y1="593" x2="324.9" y2="593" stroke="#000" stroke-width="1.3" />
<text x="317.3" y="597.2" font-size="14" text-anchor="end" font-weight="normal" >20</text>
<line x1="320.6" y1="620.9" x2="324.9" y2="620.9" stroke="#000" stroke-width="1.3" />
<text x="317.3" y="625.1" font-size="14" text-anchor="end" font-weight="normal" >10</text>
<rect x="335.5" y="595.1" width="20.7" height="53.3" fill="#c8102e"/>
<rect x="367.2" y="583" width="20.8" height="65.4" fill="#114e88"/>
<line x1="345.4" y1="591.9" x2="345.4" y2="597.2" stroke="#000" stroke-width="1.3" />
<line x1="343.15" y1="591.9" x2="347.65" y2="591.9" stroke="#000" stroke-width="1.3" />
<line x1="343.15" y1="597.2" x2="347.65" y2="597.2" stroke="#000" stroke-width="1.3" />
<line x1="377.4" y1="578.6" x2="377.4" y2="587.7" stroke="#000" stroke-width="1.3" />
<line x1="375.15" y1="578.6" x2="379.65" y2="578.6" stroke="#000" stroke-width="1.3" />
<line x1="375.15" y1="587.7" x2="379.65" y2="587.7" stroke="#000" stroke-width="1.3" />
<path d="M348.8,575.75L350.75,579.0L346.85,579.0Z" fill="#fff" stroke="#000" stroke-width="1.15" stroke-linejoin="round"/>
<path d="M354.5,581.75L356.45,585.0L352.55,585.0Z" fill="#fff" stroke="#000" stroke-width="1.15" stroke-linejoin="round"/>
<path d="M342.9,585.95L344.85,589.2L340.95,589.2Z" fill="#fff" stroke="#000" stroke-width="1.15" stroke-linejoin="round"/>
<path d="M348.8,585.55L350.75,588.8L346.85,588.8Z" fill="#fff" stroke="#000" stroke-width="1.15" stroke-linejoin="round"/>
<path d="M348.8,593.95L350.75,597.2L346.85,597.2Z" fill="#fff" stroke="#000" stroke-width="1.15" stroke-linejoin="round"/>
<path d="M354.5,593.95L356.45,597.2L352.55,597.2Z" fill="#fff" stroke="#000" stroke-width="1.15" stroke-linejoin="round"/>
<path d="M342.9,597.55L344.85,600.8L340.95,600.8Z" fill="#fff" stroke="#000" stroke-width="1.15" stroke-linejoin="round"/>
<path d="M337,600.75L338.95,604.0L335.05,604.0Z" fill="#fff" stroke="#000" stroke-width="1.15" stroke-linejoin="round"/>
<path d="M348.8,600.75L350.75,604.0L346.85,604.0Z" fill="#fff" stroke="#000" stroke-width="1.15" stroke-linejoin="round"/>
<path d="M354.5,599.65L356.45,602.9L352.55,602.9Z" fill="#fff" stroke="#000" stroke-width="1.15" stroke-linejoin="round"/>
<path d="M342.9,606.05L344.85,609.3L340.95,609.3Z" fill="#fff" stroke="#000" stroke-width="1.15" stroke-linejoin="round"/>
<path d="M386.3,559.4L388.1,563.0L384.5,563.0Z" fill="#000"/>
<path d="M377.4,561.9L379.2,565.5L375.59999999999997,565.5Z" fill="#000"/>
<path d="M377.4,567.8000000000001L379.2,571.4000000000001L375.59999999999997,571.4000000000001Z" fill="#000"/>
<path d="M368.9,571.0L370.7,574.6L367.09999999999997,574.6Z" fill="#000"/>
<path d="M377.4,573.5L379.2,577.1L375.59999999999997,577.1Z" fill="#000"/>
<path d="M386.3,579.5L388.1,583.1L384.5,583.1Z" fill="#000"/>
<path d="M377.4,582.6L379.2,586.2L375.59999999999997,586.2Z" fill="#000"/>
<path d="M377.4,588.5L379.2,592.1L375.59999999999997,592.1Z" fill="#000"/>
<path d="M368.9,594.3000000000001L370.7,597.9000000000001L367.09999999999997,597.9000000000001Z" fill="#000"/>
<path d="M368.9,599.1L370.7,602.7L367.09999999999997,602.7Z" fill="#000"/>
<path d="M377.4,596.8000000000001L379.2,600.4000000000001L375.59999999999997,600.4000000000001Z" fill="#000"/>
<path d="M386.3,597.4L388.1,601.0L384.5,601.0Z" fill="#000"/>
<line x1="320.7" y1="648.4" x2="397.5" y2="648.4" stroke="#000" stroke-width="1.5" />
<line x1="324.9" y1="648.4" x2="324.9" y2="652.4" stroke="#000" stroke-width="1.3" />
<line x1="362.6" y1="648.4" x2="362.6" y2="652.4" stroke="#000" stroke-width="1.3" />
<line x1="393.7" y1="648.4" x2="393.7" y2="652.4" stroke="#000" stroke-width="1.3" />
<line x1="349" y1="532.4" x2="376.6" y2="532.4" stroke="#000" stroke-width="1.2" />
<path d="M362.8,522.7L362.8,519.8M362.8,522.7L365.56,521.8M362.8,522.7L364.5,525.05M362.8,522.7L361.1,525.05M362.8,522.7L360.04,521.8" stroke="#000" stroke-width="1.15" stroke-linecap="round" fill="none"/>
<line x1="436" y1="538" x2="436" y2="649.15" stroke="#000" stroke-width="1.5" />
<line x1="431.7" y1="559.8" x2="436" y2="559.8" stroke="#000" stroke-width="1.3" />
<text x="427.7" y="564.0" font-size="14" text-anchor="end" font-weight="normal" >80</text>
<line x1="431.7" y1="581.8" x2="436" y2="581.8" stroke="#000" stroke-width="1.3" />
<text x="427.7" y="586.0" font-size="14" text-anchor="end" font-weight="normal" >60</text>
<line x1="431.7" y1="604.2" x2="436" y2="604.2" stroke="#000" stroke-width="1.3" />
<text x="427.7" y="608.4" font-size="14" text-anchor="end" font-weight="normal" >40</text>
<line x1="431.7" y1="626.2" x2="436" y2="626.2" stroke="#000" stroke-width="1.3" />
<text x="427.7" y="630.4" font-size="14" text-anchor="end" font-weight="normal" >20</text>
<rect x="446.5" y="574" width="20.8" height="74.4" fill="#c8102e"/>
<rect x="478.7" y="561.9" width="20.3" height="86.5" fill="#114e88"/>
<line x1="456.7" y1="570.3" x2="456.7" y2="576.7" stroke="#000" stroke-width="1.3" />
<line x1="454.45" y1="570.3" x2="458.95" y2="570.3" stroke="#000" stroke-width="1.3" />
<line x1="454.45" y1="576.7" x2="458.95" y2="576.7" stroke="#000" stroke-width="1.3" />
<line x1="488.9" y1="558.5" x2="488.9" y2="565.5" stroke="#000" stroke-width="1.3" />
<line x1="486.65" y1="558.5" x2="491.15" y2="558.5" stroke="#000" stroke-width="1.3" />
<line x1="486.65" y1="565.5" x2="491.15" y2="565.5" stroke="#000" stroke-width="1.3" />
<path d="M453.9,550.45L455.85,553.7L451.95,553.7Z" fill="#fff" stroke="#000" stroke-width="1.15" stroke-linejoin="round"/>
<path d="M459.9,559.95L461.85,563.2L457.95,563.2Z" fill="#fff" stroke="#000" stroke-width="1.15" stroke-linejoin="round"/>
<path d="M465.6,562.65L467.55,565.9L463.65,565.9Z" fill="#fff" stroke="#000" stroke-width="1.15" stroke-linejoin="round"/>
<path d="M448.2,566.45L450.15,569.7L446.25,569.7Z" fill="#fff" stroke="#000" stroke-width="1.15" stroke-linejoin="round"/>
<path d="M453.9,566.45L455.85,569.7L451.95,569.7Z" fill="#fff" stroke="#000" stroke-width="1.15" stroke-linejoin="round"/>
<path d="M459.9,565.25L461.85,568.5L457.95,568.5Z" fill="#fff" stroke="#000" stroke-width="1.15" stroke-linejoin="round"/>
<path d="M448.2,577.95L450.15,581.2L446.25,581.2Z" fill="#fff" stroke="#000" stroke-width="1.15" stroke-linejoin="round"/>
<path d="M453.9,580.05L455.85,583.3L451.95,583.3Z" fill="#fff" stroke="#000" stroke-width="1.15" stroke-linejoin="round"/>
<path d="M459.9,578.95L461.85,582.2L457.95,582.2Z" fill="#fff" stroke="#000" stroke-width="1.15" stroke-linejoin="round"/>
<path d="M453.9,590.55L455.85,593.8L451.95,593.8Z" fill="#fff" stroke="#000" stroke-width="1.15" stroke-linejoin="round"/>
<path d="M459.9,588.05L461.85,591.3L457.95,591.3Z" fill="#fff" stroke="#000" stroke-width="1.15" stroke-linejoin="round"/>
<path d="M456.7,571.15L458.65,574.4L454.75,574.4Z" fill="#fff" stroke="#000" stroke-width="1.15" stroke-linejoin="round"/>
<path d="M488.9,538.8000000000001L490.7,542.4000000000001L487.09999999999997,542.4000000000001Z" fill="#000"/>
<path d="M488.9,544.5L490.7,548.1L487.09999999999997,548.1Z" fill="#000"/>
<path d="M480,551.9L481.8,555.5L478.2,555.5Z" fill="#000"/>
<path d="M488.9,551.9L490.7,555.5L487.09999999999997,555.5Z" fill="#000"/>
<path d="M497.3,549.8000000000001L499.1,553.4000000000001L495.5,553.4000000000001Z" fill="#000"/>
<path d="M480,562.5L481.8,566.1L478.2,566.1Z" fill="#000"/>
<path d="M488.9,559.4L490.7,563.0L487.09999999999997,563.0Z" fill="#000"/>
<path d="M488.9,563.6L490.7,567.2L487.09999999999997,567.2Z" fill="#000"/>
<path d="M497.3,566.3000000000001L499.1,569.9000000000001L495.5,569.9000000000001Z" fill="#000"/>
<path d="M480,567.8000000000001L481.8,571.4000000000001L478.2,571.4000000000001Z" fill="#000"/>
<path d="M480,575.2L481.8,578.8000000000001L478.2,578.8000000000001Z" fill="#000"/>
<path d="M488.9,571.4L490.7,575.0L487.09999999999997,575.0Z" fill="#000"/>
<path d="M497.3,573.5L499.1,577.1L495.5,577.1Z" fill="#000"/>
<line x1="432" y1="648.4" x2="508.5" y2="648.4" stroke="#000" stroke-width="1.5" />
<line x1="436" y1="648.4" x2="436" y2="652.4" stroke="#000" stroke-width="1.3" />
<line x1="473.4" y1="648.4" x2="473.4" y2="652.4" stroke="#000" stroke-width="1.3" />
<line x1="504.7" y1="648.4" x2="504.7" y2="652.4" stroke="#000" stroke-width="1.3" />
<line x1="461" y1="531.2" x2="489.2" y2="531.2" stroke="#000" stroke-width="1.2" />
<path d="M475,522.7L475.0,519.8M475,522.7L477.76,521.8M475,522.7L476.7,525.05M475,522.7L473.3,525.05M475,522.7L472.24,521.8" stroke="#000" stroke-width="1.15" stroke-linecap="round" fill="none"/>
<text x="362.75" y="713.6" font-size="15" text-anchor="middle" font-weight="normal" >cDC</text>
<line x1="325.8" y1="718.75" x2="325.8" y2="830.25" stroke="#000" stroke-width="1.5" />
<line x1="321.5" y1="746.3" x2="325.8" y2="746.3" stroke="#000" stroke-width="1.3" />
<text x="317.4" y="750.5" font-size="14" text-anchor="end" font-weight="normal" >3.0</text>
<line x1="321.5" y1="774.3" x2="325.8" y2="774.3" stroke="#000" stroke-width="1.3" />
<text x="317.4" y="778.5" font-size="14" text-anchor="end" font-weight="normal" >2.0</text>
<line x1="321.5" y1="801.8" x2="325.8" y2="801.8" stroke="#000" stroke-width="1.3" />
<text x="317.4" y="806.0" font-size="14" text-anchor="end" font-weight="normal" >1.0</text>
<rect x="336.25" y="783.6" width="20.75" height="45.9" fill="#c8102e"/>
<rect x="368" y="776.75" width="20.75" height="52.75" fill="#114e88"/>
<line x1="346.9" y1="770.8" x2="346.9" y2="793.8" stroke="#000" stroke-width="1.3" />
<line x1="344.65" y1="770.8" x2="349.15" y2="770.8" stroke="#000" stroke-width="1.3" />
<line x1="344.65" y1="793.8" x2="349.15" y2="793.8" stroke="#000" stroke-width="1.3" />
<line x1="378.3" y1="761.3" x2="378.3" y2="790" stroke="#000" stroke-width="1.3" />
<line x1="376.05" y1="761.3" x2="380.55" y2="761.3" stroke="#000" stroke-width="1.3" />
<line x1="376.05" y1="790" x2="380.55" y2="790" stroke="#000" stroke-width="1.3" />
<path d="M338.2,768.25L340.15,771.5L336.25,771.5Z" fill="#fff" stroke="#000" stroke-width="1.15" stroke-linejoin="round"/>
<path d="M346.9,768.25L348.85,771.5L344.95,771.5Z" fill="#fff" stroke="#000" stroke-width="1.15" stroke-linejoin="round"/>
<path d="M355.4,769.05L357.35,772.3L353.45,772.3Z" fill="#fff" stroke="#000" stroke-width="1.15" stroke-linejoin="round"/>
<path d="M338.2,777.95L340.15,781.2L336.25,781.2Z" fill="#fff" stroke="#000" stroke-width="1.15" stroke-linejoin="round"/>
<path d="M346.9,776.75L348.85,780.0L344.95,780.0Z" fill="#fff" stroke="#000" stroke-width="1.15" stroke-linejoin="round"/>
<path d="M355.4,775.95L357.35,779.2L353.45,779.2Z" fill="#fff" stroke="#000" stroke-width="1.15" stroke-linejoin="round"/>
<path d="M355.4,786.25L357.35,789.5L353.45,789.5Z" fill="#fff" stroke="#000" stroke-width="1.15" stroke-linejoin="round"/>
<path d="M355.4,791.35L357.35,794.6L353.45,794.6Z" fill="#fff" stroke="#000" stroke-width="1.15" stroke-linejoin="round"/>
<path d="M355.4,795.45L357.35,798.7L353.45,798.7Z" fill="#fff" stroke="#000" stroke-width="1.15" stroke-linejoin="round"/>
<path d="M346.9,791.35L348.85,794.6L344.95,794.6Z" fill="#fff" stroke="#000" stroke-width="1.15" stroke-linejoin="round"/>
<path d="M338.2,796.75L340.15,800.0L336.25,800.0Z" fill="#fff" stroke="#000" stroke-width="1.15" stroke-linejoin="round"/>
<path d="M378.2,747.0L380.0,750.6L376.4,750.6Z" fill="#000"/>
<path d="M378.2,759.3000000000001L380.0,762.9000000000001L376.4,762.9000000000001Z" fill="#000"/>
<path d="M386.9,757.8000000000001L388.7,761.4000000000001L385.09999999999997,761.4000000000001Z" fill="#000"/>
<path d="M386.9,765.8000000000001L388.7,769.4000000000001L385.09999999999997,769.4000000000001Z" fill="#000"/>
<path d="M378.2,769.6L380.0,773.2L376.4,773.2Z" fill="#000"/>
<path d="M386.9,775.0L388.7,778.6L385.09999999999997,778.6Z" fill="#000"/>
<path d="M369.5,782.7L371.3,786.3000000000001L367.7,786.3000000000001Z" fill="#000"/>
<path d="M378.2,777.8000000000001L380.0,781.4000000000001L376.4,781.4000000000001Z" fill="#000"/>
<path d="M386.9,783.5L388.7,787.1L385.09999999999997,787.1Z" fill="#000"/>
<path d="M378.2,785.8000000000001L380.0,789.4000000000001L376.4,789.4000000000001Z" fill="#000"/>
<path d="M378.2,789.6L380.0,793.2L376.4,793.2Z" fill="#000"/>
<path d="M378.2,797.8000000000001L380.0,801.4000000000001L376.4,801.4000000000001Z" fill="#000"/>
<line x1="321.5" y1="829.5" x2="398" y2="829.5" stroke="#000" stroke-width="1.5" />
<line x1="325.8" y1="829.5" x2="325.8" y2="833.5" stroke="#000" stroke-width="1.3" />
<line x1="362.5" y1="829.5" x2="362.5" y2="833.5" stroke="#000" stroke-width="1.3" />
<line x1="394.5" y1="829.5" x2="394.5" y2="833.5" stroke="#000" stroke-width="1.3" />
<text transform="translate(287.9,774) rotate(-90)" font-size="12.5" text-anchor="middle" font-weight="normal" style="stroke-width:0.55px" textLength="47" lengthAdjust="spacingAndGlyphs">x10<tspan font-size="8" dy="-4" style="stroke-width:0.2px">6</tspan><tspan dy="4">/spleen</tspan></text>
<text x="303" y="847" font-size="14" text-anchor="middle" font-weight="normal" >Drug</text>
<line x1="344.8" y1="842.5" x2="352.2" y2="842.5" stroke="#000" stroke-width="1.2" />
<line x1="375.4" y1="842.5" x2="383.8" y2="842.5" stroke="#000" stroke-width="1.2" />
<line x1="379.6" y1="838.4" x2="379.6" y2="846.6" stroke="#000" stroke-width="1.2" />
<text x="474.25" y="713.6" font-size="15" text-anchor="middle" font-weight="normal" >pDC</text>
<line x1="437.1" y1="719" x2="437.1" y2="830.15" stroke="#000" stroke-width="1.5" />
<line x1="432.8" y1="746" x2="437.1" y2="746" stroke="#000" stroke-width="1.3" />
<text x="428.7" y="750.2" font-size="14" text-anchor="end" font-weight="normal" >0.6</text>
<line x1="432.8" y1="774.2" x2="437.1" y2="774.2" stroke="#000" stroke-width="1.3" />
<text x="428.7" y="778.4" font-size="14" text-anchor="end" font-weight="normal" >0.4</text>
<line x1="432.8" y1="801.7" x2="437.1" y2="801.7" stroke="#000" stroke-width="1.3" />
<text x="428.7" y="805.9" font-size="14" text-anchor="end" font-weight="normal" >0.2</text>
<rect x="447.3" y="769.4" width="20.7" height="60.0" fill="#c8102e"/>
<rect x="479.1" y="756.7" width="20.7" height="72.7" fill="#114e88"/>
<line x1="457.6" y1="765.6" x2="457.6" y2="772.9" stroke="#000" stroke-width="1.3" />
<line x1="455.35" y1="765.6" x2="459.85" y2="765.6" stroke="#000" stroke-width="1.3" />
<line x1="455.35" y1="772.9" x2="459.85" y2="772.9" stroke="#000" stroke-width="1.3" />
<line x1="489.5" y1="752.2" x2="489.5" y2="760.8" stroke="#000" stroke-width="1.3" />
<line x1="487.25" y1="752.2" x2="491.75" y2="752.2" stroke="#000" stroke-width="1.3" />
<line x1="487.25" y1="760.8" x2="491.75" y2="760.8" stroke="#000" stroke-width="1.3" />
<path d="M449.5,753.65L451.45,756.9L447.55,756.9Z" fill="#fff" stroke="#000" stroke-width="1.15" stroke-linejoin="round"/>
<path d="M457.5,751.45L459.45,754.7L455.55,754.7Z" fill="#fff" stroke="#000" stroke-width="1.15" stroke-linejoin="round"/>
<path d="M466.2,753.65L468.15,756.9L464.25,756.9Z" fill="#fff" stroke="#000" stroke-width="1.15" stroke-linejoin="round"/>
<path d="M449.5,759.05L451.45,762.3L447.55,762.3Z" fill="#fff" stroke="#000" stroke-width="1.15" stroke-linejoin="round"/>
<path d="M457.5,758.25L459.45,761.5L455.55,761.5Z" fill="#fff" stroke="#000" stroke-width="1.15" stroke-linejoin="round"/>
<path d="M466.2,759.55L468.15,762.8L464.25,762.8Z" fill="#fff" stroke="#000" stroke-width="1.15" stroke-linejoin="round"/>
<path d="M457.5,765.75L459.45,769.0L455.55,769.0Z" fill="#fff" stroke="#000" stroke-width="1.15" stroke-linejoin="round"/>
<path d="M457.5,769.75L459.45,773.0L455.55,773.0Z" fill="#fff" stroke="#000" stroke-width="1.15" stroke-linejoin="round"/>
<path d="M457.5,775.25L459.45,778.5L455.55,778.5Z" fill="#fff" stroke="#000" stroke-width="1.15" stroke-linejoin="round"/>
<path d="M449.5,780.55L451.45,783.8L447.55,783.8Z" fill="#fff" stroke="#000" stroke-width="1.15" stroke-linejoin="round"/>
<path d="M466.2,780.05L468.15,783.3L464.25,783.3Z" fill="#fff" stroke="#000" stroke-width="1.15" stroke-linejoin="round"/>
<path d="M457.5,798.05L459.45,801.3L455.55,801.3Z" fill="#fff" stroke="#000" stroke-width="1.15" stroke-linejoin="round"/>
<path d="M492.5,729.8000000000001L494.3,733.4000000000001L490.7,733.4000000000001Z" fill="#000"/>
<path d="M486.4,735.4L488.2,739.0L484.59999999999997,739.0Z" fill="#000"/>
<path d="M480.4,747.6L482.2,751.2L478.59999999999997,751.2Z" fill="#000"/>
<path d="M486.4,744.9L488.2,748.5L484.59999999999997,748.5Z" fill="#000"/>
<path d="M492.5,748.1L494.3,751.7L490.7,751.7Z" fill="#000"/>
<path d="M498.5,748.6L500.3,752.2L496.7,752.2Z" fill="#000"/>
<path d="M486.4,756.2L488.2,759.8000000000001L484.59999999999997,759.8000000000001Z" fill="#000"/>
<path d="M489.9,757.5L491.7,761.1L488.09999999999997,761.1Z" fill="#000"/>
<path d="M492.5,757.5L494.3,761.1L490.7,761.1Z" fill="#000"/>
<path d="M486.4,764.3000000000001L488.2,767.9000000000001L484.59999999999997,767.9000000000001Z" fill="#000"/>
<path d="M492.5,766.4L494.3,770.0L490.7,770.0Z" fill="#000"/>
<path d="M486.4,776.4L488.2,780.0L484.59999999999997,780.0Z" fill="#000"/>
<path d="M492.5,775.0L494.3,778.6L490.7,778.6Z" fill="#000"/>
<line x1="433" y1="829.4" x2="510.6" y2="829.4" stroke="#000" stroke-width="1.5" />
<line x1="437.1" y1="829.4" x2="437.1" y2="833.4" stroke="#000" stroke-width="1.3" />
<line x1="473.7" y1="829.4" x2="473.7" y2="833.4" stroke="#000" stroke-width="1.3" />
<line x1="506" y1="829.4" x2="506" y2="833.4" stroke="#000" stroke-width="1.3" />
<line x1="453.4" y1="842.9" x2="460.8" y2="842.9" stroke="#000" stroke-width="1.2" />
<line x1="483.9" y1="842.9" x2="492.3" y2="842.9" stroke="#000" stroke-width="1.2" />
<line x1="488.1" y1="838.8" x2="488.1" y2="847" stroke="#000" stroke-width="1.2" />
<rect x="0" y="0" width="520" height="1" fill="#7a7a7a"/>
<rect x="0" y="0" width="1" height="863" fill="#7a7a7a"/>
<rect x="1" y="1" width="517" height="1" fill="#3c3c3c"/>
<rect x="1" y="1" width="1" height="860" fill="#3c3c3c"/>
<rect x="518" y="0" width="2" height="863" fill="#5c5c5c"/>
<rect x="0" y="861" width="520" height="2" fill="#5c5c5c"/>
</svg></div></body></html>
